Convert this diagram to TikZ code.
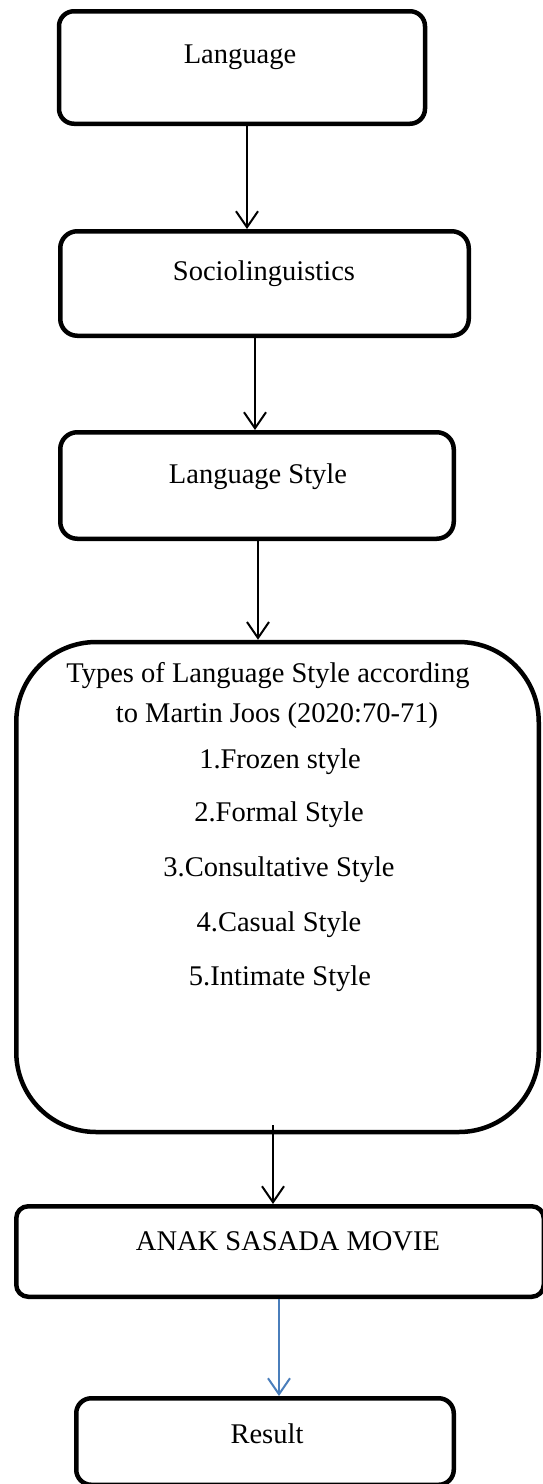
\documentclass[tikz,border=0pt]{standalone}
\usepackage{fontspec}
\setmainfont{Liberation Serif}
\usetikzlibrary{arrows.meta}
\definecolor{arrblue}{RGB}{74,126,187}
\begin{document}
\begin{tikzpicture}[x=1pt,y=-1pt,
  box/.style={draw=black,line width=4.5pt,inner sep=0pt},
  lbl/.style={anchor=base,inner sep=0pt,font=\fontsize{28.5}{34}\selectfont},
  arr/.style={line width=2pt,-{Straight Barb[length=16pt,width=22pt]}}]
\useasboundingbox[fill=white] (0,0) rectangle (542,1484);

\node[box,rounded corners=15pt,minimum width=366pt,minimum height=112.5pt] (b1) at (242,67.5) {};
\node[box,rounded corners=17pt,minimum width=408.5pt,minimum height=104.5pt] (b2) at (264.5,283.5) {};
\node[box,rounded corners=17pt,minimum width=393.5pt,minimum height=106.5pt] (b3) at (257,485.5) {};
\node[box,rounded corners=80pt,minimum width=522.5pt,minimum height=490pt] (b4) at (277.5,887) {};
\node[box,rounded corners=12pt,minimum width=527.5pt,minimum height=90.5pt] (b5) at (280,1251.5) {};
\node[box,rounded corners=15pt,minimum width=377.5pt,minimum height=86.5pt] (b6) at (265,1441.5) {};

\node[lbl] (t1) at (240,63) {Language};
\node[lbl] (t2) at (264,280) {Sociolinguistics};
\node[lbl] (t3) at (258,483) {Language Style};
\node[lbl] (t4a) at (268,682) {Types of Language Style according};
\node[lbl] (t4b) at (277,722) {to Martin Joos (2020:70-71)};
\node[lbl] (t4c) at (280,768) {1.Frozen style};
\node[lbl] (t4d) at (279,821) {2.Formal Style};
\node[lbl] (t4e) at (279,876) {3.Consultative Style};
\node[lbl] (t4f) at (279,931) {4.Casual Style};
\node[lbl] (t4g) at (280,985) {5.Intimate Style};
\node[lbl] (t5) at (288,1250) {ANAK SASADA MOVIE};
\node[lbl] (t6) at (267,1443) {Result};

\coordinate (x1) at (247,0);
\coordinate (x2) at (255,0);
\coordinate (x3) at (258,0);
\coordinate (a4) at (273,1125);
\coordinate (x5) at (279,0);

\draw[arr] (b1.south -| x1) -- (b2.north -| x1);
\draw[arr] (b2.south -| x2) -- (b3.north -| x2);
\draw[arr] (b3.south -| x3) -- (b4.north -| x3);
\draw[arr] (a4) -- (b5.north -| a4);
\draw[arr,draw=arrblue] (b5.south -| x5) -- (b6.north -| x5);
\end{tikzpicture}
\end{document}
